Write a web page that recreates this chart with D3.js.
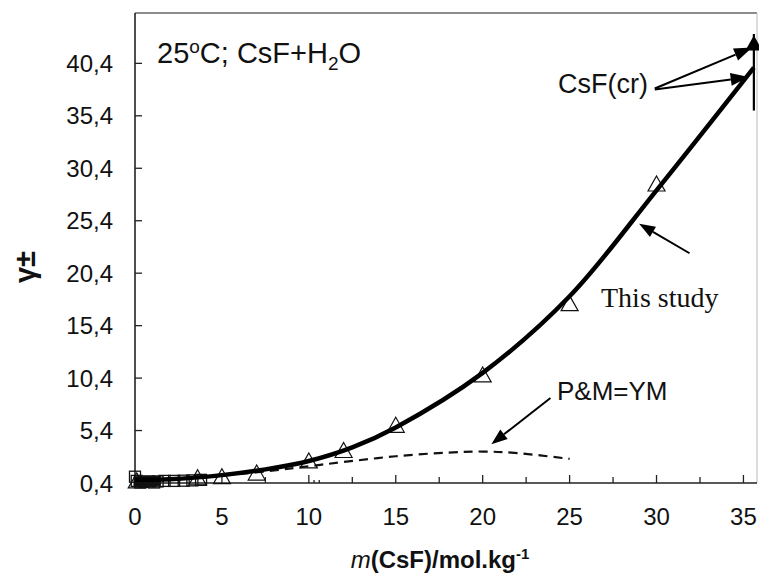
<!DOCTYPE html>
<html><head><meta charset="utf-8">
<script src="https://cdn.jsdelivr.net/npm/d3@7"></script>
<style>
body{margin:0;background:#fff;}
svg{display:block;font-family:"Liberation Sans",Arial,sans-serif;}
</style></head>
<body>
<svg id="chart" width="759" height="574"></svg>
<script>
// ---- data ----
const xTicks = [0, 5, 10, 15, 20, 25, 30, 35];
const xMinorTicks = [2.5, 7.5, 12.5, 17.5, 22.5, 27.5, 32.5];
const xStrayTicks = [10.3, 10.6];
const yTicks = [0.4, 5.4, 10.4, 15.4, 20.4, 25.4, 30.4, 35.4, 40.4];
const yTickLabels = ["0,4","5,4","10,4","15,4","20,4","25,4","30,4","35,4","40,4"];

// "This study" model curve
const curveM = [0, 2, 5, 7.5, 10, 12.5, 15, 20, 25, 30, 35.6];
const curveG = [0.7, 0.75, 1.15, 1.7, 2.5, 3.8, 5.7, 10.9, 18.2, 28.3, 40.0];

// P&M = YM (dashed)
const pmM = [0, 2, 5, 8, 10, 12, 15, 18, 20, 22, 25];
const pmG = [0.7, 0.75, 1.1, 1.6, 2.0, 2.4, 2.95, 3.3, 3.4, 3.25, 2.7];

// open triangles (experimental)
const triM = [0.1, 3.6, 5, 7, 10, 12, 15, 20, 25, 30];
const triG = [0.6, 0.9, 1.0, 1.35, 2.5, 3.5, 5.9, 10.7, 17.5, 28.9];

// open squares (experimental, dilute)
const sqM = [0, 0.1, 0.3, 0.5, 0.8, 1.1, 1.3, 1.7, 2.25, 2.8, 3.3, 3.8];
const sqG = [1.0, 0.6, 0.45, 0.5, 0.55, 0.45, 0.55, 0.6, 0.6, 0.62, 0.65, 0.7];

// filled squares
const fillM = [0.2, 0.4, 0.6, 0.8, 1.0, 1.2];
const fillG = [0.55, 0.5, 0.55, 0.6, 0.5, 0.6];

// solubility (CsF(cr))
const satM = 35.6;
const satRange = [35.9, 43.2];
const satPointG = 42.3;

// ---- chart ----
const svg = d3.select("#chart");
const x = d3.scaleLinear().domain([0, 35.78]).range([135, 757]);
const y = d3.scaleLinear().domain([0.4, 45.2]).range([483, 13]);

// frame top/right
svg.append("line").attr("x1", x(0)).attr("x2", x(35.78)).attr("y1", y(45.2)).attr("y2", y(45.2))
  .attr("stroke", "#8c8c8c").attr("stroke-width", 2);
svg.append("line").attr("x1", x(35.78)).attr("x2", x(35.78)).attr("y1", y(45.2)).attr("y2", y(0.4))
  .attr("stroke", "#bbb").attr("stroke-width", 1);

// x axis
const xAxis = svg.append("g").attr("transform", `translate(0,${y(0.4)})`);
xAxis.append("line").attr("x1", x(0)).attr("x2", x(35.78)).attr("stroke", "#222").attr("stroke-width", 1.6);
xAxis.selectAll(".maj").data(xTicks.slice(1)).join("line")
  .attr("x1", d => x(d)).attr("x2", d => x(d)).attr("y1", 0).attr("y2", -8).attr("stroke", "#222").attr("stroke-width", 1.3);
xAxis.selectAll(".min").data(xMinorTicks).join("line").attr("class","min")
  .attr("x1", d => x(d)).attr("x2", d => x(d)).attr("y1", 0).attr("y2", -6).attr("stroke", "#222").attr("stroke-width", 1.3);
xAxis.selectAll(".stray").data(xStrayTicks).join("line").attr("class","stray")
  .attr("x1", d => x(d)).attr("x2", d => x(d)).attr("y1", 0).attr("y2", -3).attr("stroke", "#222").attr("stroke-width", 1.3);
xAxis.selectAll(".lab").data(xTicks).join("text").attr("class","lab")
  .attr("x", d => x(d)).attr("y", 42).attr("text-anchor", "middle")
  .attr("font-size", 24).attr("fill", "#111").text(d => d);

// y axis
const yAxis = svg.append("g").attr("transform", `translate(${x(0)},0)`);
yAxis.append("line").attr("y1", y(45.2)).attr("y2", y(0.4)).attr("stroke", "#222").attr("stroke-width", 1.6);
yAxis.selectAll(".yt").data(yTicks).join("line").attr("class","yt")
  .attr("x1", 0).attr("x2", 7).attr("y1", d => y(d)).attr("y2", d => y(d)).attr("stroke", "#222").attr("stroke-width", 1.3);
yAxis.selectAll(".yl").data(yTicks).join("text").attr("class","yl")
  .attr("x", -22).attr("y", d => y(d)).attr("dy", "0.36em").attr("text-anchor", "end")
  .attr("font-size", 24).attr("fill", "#111").text((d, i) => yTickLabels[i]);

// axis titles
const xt = svg.append("text").attr("x", 440).attr("y", 568).attr("text-anchor", "middle")
  .attr("font-size", 24).attr("font-weight", "bold").attr("fill", "#111");
xt.append("tspan").attr("font-style", "italic").attr("font-weight", "normal").text("m");
xt.append("tspan").text("(CsF)/mol.kg");
xt.append("tspan").attr("font-size", 15).attr("dy", -9).text("-1");

svg.append("text").attr("transform", "translate(35,267) rotate(-90)").attr("text-anchor", "middle")
  .attr("font-size", 29).attr("font-weight", "bold").attr("fill", "#111").text("γ±");

// P&M dashed curve
const smooth = d3.line().x(d => x(d[0])).y(d => y(d[1])).curve(d3.curveCatmullRom.alpha(0.5));
svg.append("path").datum(pmM.map((m, i) => [m, pmG[i]])).attr("d", smooth)
  .attr("fill", "none").attr("stroke", "#111").attr("stroke-width", 2.2).attr("stroke-dasharray", "9,6");

// squares
const sqSize = 11;
svg.selectAll(".sq").data(sqM.map((m, i) => [m, sqG[i]])).join("rect").attr("class","sq")
  .attr("x", d => x(d[0]) - sqSize/2).attr("y", d => y(d[1]) - sqSize/2)
  .attr("width", sqSize).attr("height", sqSize).attr("fill", "none").attr("stroke", "#111").attr("stroke-width", 1.3);
svg.selectAll(".fsq").data(fillM.map((m, i) => [m, fillG[i]])).join("rect").attr("class","fsq")
  .attr("x", d => x(d[0]) - 5).attr("y", d => y(d[1]) - 5)
  .attr("width", 10).attr("height", 10).attr("fill", "#111");

// triangles
const triPath = (cx, cy) => `M${cx},${cy-8}L${cx+8.5},${cy+7}L${cx-8.5},${cy+7}Z`;
svg.selectAll(".tri").data(triM.map((m, i) => [m, triG[i]])).join("path").attr("class","tri")
  .attr("d", d => triPath(x(d[0]), y(d[1]))).attr("fill", "none").attr("stroke", "#111").attr("stroke-width", 1.2);

// This study curve
svg.append("path").datum(curveM.map((m, i) => [m, curveG[i]])).attr("d", smooth)
  .attr("fill", "none").attr("stroke", "#000").attr("stroke-width", 4.5);

// solubility line + filled triangle
svg.append("line").attr("x1", x(satM)).attr("x2", x(satM)).attr("y1", y(satRange[0])).attr("y2", y(satRange[1]))
  .attr("stroke", "#000").attr("stroke-width", 2.2);
svg.append("path").attr("d", triPath(x(satM), y(satPointG))).attr("fill", "#000");

// arrows
function arrow(x1, y1, x2, y2, hl = 16, hw = 12, sw = 2) {
  const a = Math.atan2(y2 - y1, x2 - x1);
  const bx = x2 - hl * Math.cos(a), by = y2 - hl * Math.sin(a);
  svg.append("line").attr("x1", x1).attr("y1", y1).attr("x2", bx).attr("y2", by).attr("stroke", "#000").attr("stroke-width", sw);
  const px = -Math.sin(a) * hw / 2, py = Math.cos(a) * hw / 2;
  svg.append("path").attr("d", `M${x2},${y2}L${bx + px},${by + py}L${bx - px},${by - py}Z`).attr("fill", "#000");
}
arrow(x(31.9), y(22.3), x(29.0), y(25.1));
arrow(x(23.9), y(8.5), x(20.5), y(4.1));
arrow(x(29.9), y(38.0), x(35.5), y(41.9), 18, 13);
arrow(x(29.9), y(37.9), x(35.3), y(39.1), 18, 13);

// annotations text
svg.append("text").attr("x", 601).attr("y", 307).attr("font-family", "'Liberation Serif','Times New Roman',serif")
  .attr("font-size", 28).attr("fill", "#111").text("This study");
svg.append("text").attr("x", 557).attr("y", 400).attr("font-size", 26).attr("fill", "#111").text("P&M=YM");
svg.append("text").attr("x", 558).attr("y", 93).attr("font-size", 27).attr("fill", "#111").text("CsF(cr)");

const tt = svg.append("text").attr("x", 157).attr("y", 63).attr("font-size", 29).attr("fill", "#111");
tt.append("tspan").text("25");
tt.append("tspan").attr("font-size", 19).attr("dy", -10).text("o");
tt.append("tspan").attr("dy", 10).text("C; CsF+H");
tt.append("tspan").attr("font-size", 19).attr("dy", 7).text("2");
tt.append("tspan").attr("dy", -7).text("O");
</script>
</body></html>
